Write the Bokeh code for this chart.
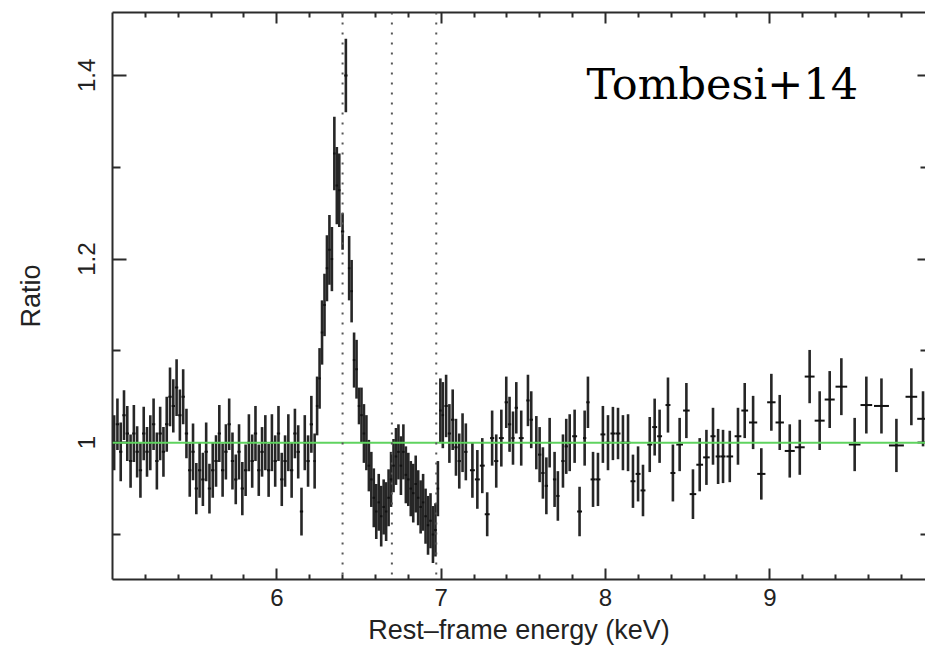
import numpy as np
from bokeh.plotting import figure
from bokeh.models import (ColumnDataSource, FixedTicker, LinearAxis, Range1d,
                          Span, Label)
from bokeh.embed import file_html
from bokeh.resources import INLINE

# ---- data -----------------------------------------------------------------
# continuum below the Fe K line
energy_lo = [5.01, 5.03, 5.05, 5.07, 5.09, 5.11, 5.13, 5.15, 5.17, 5.19,
             5.21, 5.23, 5.25, 5.27, 5.29, 5.31, 5.33, 5.35, 5.37, 5.39,
             5.41, 5.43, 5.45, 5.47, 5.49, 5.51, 5.53, 5.55, 5.57, 5.59,
             5.61, 5.63, 5.65, 5.67, 5.69, 5.71, 5.73, 5.75, 5.77, 5.79,
             5.81, 5.83, 5.85, 5.87, 5.89, 5.91, 5.93, 5.95, 5.97, 5.99,
             6.01, 6.03, 6.05, 6.07, 6.09, 6.11, 6.13, 6.15, 6.17, 6.19,
             6.21]
ratio_lo = [1.00, 1.02, 0.99, 1.03, 1.01, 0.98, 1.01, 0.99, 0.97, 1.01,
            0.99, 1.00, 1.02, 0.98, 1.01, 0.99, 1.02, 1.05, 1.04, 1.06,
            1.03, 1.05, 1.01, 0.97, 0.99, 0.95, 0.97, 0.96, 0.99, 0.95,
            0.97, 0.98, 1.01, 0.97, 0.99, 1.02, 0.98, 0.96, 0.99, 0.95,
            0.97, 1.00, 0.98, 1.01, 0.97, 0.99, 1.00, 0.97, 1.00, 0.98,
            1.01, 0.96, 0.98, 1.00, 0.97, 1.01, 0.99, 0.925, 1.00, 0.98,
            1.02]
err_lo = [0.030, 0.028, 0.032, 0.027, 0.030, 0.029, 0.031, 0.028, 0.030, 0.029,
          0.027, 0.030, 0.028, 0.031, 0.029, 0.027, 0.030, 0.032, 0.029, 0.031,
          0.028, 0.030, 0.027, 0.029, 0.031, 0.028, 0.030, 0.029, 0.032, 0.027,
          0.030, 0.028, 0.031, 0.029, 0.030, 0.028, 0.031, 0.027, 0.030, 0.029,
          0.028, 0.031, 0.029, 0.030, 0.028, 0.027, 0.030, 0.029, 0.031, 0.028,
          0.030, 0.029, 0.028, 0.031, 0.030, 0.027, 0.029, 0.026, 0.030, 0.028,
          0.031]

# Fe K line region
energy_fe = [6.23, 6.245, 6.26, 6.275, 6.29, 6.305, 6.32, 6.335, 6.35, 6.365,
             6.38, 6.40, 6.42, 6.44, 6.455, 6.47, 6.485, 6.50, 6.515, 6.53,
             6.545, 6.56, 6.575, 6.59, 6.605, 6.62, 6.635, 6.65, 6.665, 6.68,
             6.695, 6.71, 6.725, 6.74, 6.755, 6.77, 6.785, 6.80, 6.815, 6.83,
             6.845, 6.86, 6.875, 6.89, 6.905, 6.92, 6.935, 6.95, 6.965, 6.98,
             6.995, 7.01, 7.03, 7.05, 7.07, 7.09, 7.11, 7.13, 7.15]
ratio_fe = [0.98, 1.04, 1.07, 1.12, 1.15, 1.19, 1.21, 1.20, 1.315, 1.28,
            1.275, 1.23, 1.40, 1.19, 1.165, 1.09, 1.08, 1.04, 1.03, 1.01,
            1.00, 0.975, 0.96, 0.94, 0.925, 0.935, 0.92, 0.93, 0.925, 0.94,
            0.96, 0.975, 0.985, 0.99, 0.975, 0.99, 0.965, 0.96, 0.95, 0.945,
            0.955, 0.94, 0.93, 0.935, 0.92, 0.91, 0.915, 0.90, 0.905, 0.95,
            1.035, 1.03, 1.04, 1.01, 1.025, 0.995, 0.98, 1.00, 0.99]
err_fe = [0.030, 0.032, 0.033, 0.035, 0.034, 0.036, 0.038, 0.035, 0.040, 0.042,
          0.040, 0.020, 0.040, 0.035, 0.034, 0.030, 0.032, 0.020, 0.030, 0.032,
          0.030, 0.028, 0.030, 0.032, 0.030, 0.031, 0.033, 0.030, 0.032, 0.031,
          0.030, 0.029, 0.031, 0.030, 0.032, 0.030, 0.031, 0.029, 0.030, 0.032,
          0.031, 0.030, 0.029, 0.031, 0.030, 0.032, 0.030, 0.031, 0.029, 0.030,
          0.035, 0.036, 0.034, 0.032, 0.033, 0.031, 0.030, 0.032, 0.031]

# continuum above the Fe K line
energy_hi = [7.19, 7.22, 7.25, 7.28, 7.31, 7.335, 7.366, 7.396, 7.416, 7.437,
             7.457, 7.487, 7.528, 7.548, 7.579, 7.599, 7.619, 7.64, 7.66, 7.69,
             7.71, 7.741, 7.761, 7.782, 7.812, 7.842, 7.873, 7.893, 7.924, 7.954,
             7.984, 8.015, 8.045, 8.076, 8.106, 8.137, 8.167, 8.198, 8.228, 8.269,
             8.299, 8.329, 8.38, 8.41, 8.451, 8.492, 8.532, 8.573, 8.614, 8.654,
             8.685, 8.715, 8.756, 8.806, 8.847, 8.898, 8.948, 9.009, 9.06, 9.121,
             9.182, 9.242, 9.303, 9.364, 9.435, 9.516, 9.587, 9.679, 9.77, 9.861,
             9.932]
ratio_hi = [0.97, 0.96, 0.975, 0.922, 1.005, 0.98, 1.005, 1.044, 1.02, 1.005,
            1.038, 1.005, 1.046, 1.025, 1.0, 0.987, 0.967, 0.953, 1.0, 0.96,
            0.942, 0.98, 0.996, 1.0, 1.007, 0.925, 1.005, 1.044, 0.96, 0.96,
            1.009, 1.0, 1.01, 1.01, 1.0, 1.0, 0.958, 0.966, 0.948, 0.998,
            1.017, 1.007, 1.041, 0.967, 0.998, 1.035, 0.944, 0.976, 0.984, 1.007,
            0.985, 0.985, 0.985, 1.007, 1.035, 1.022, 0.966, 1.044, 1.022, 0.991,
            0.995, 1.072, 1.024, 1.047, 1.061, 0.998, 1.041, 1.04, 0.997, 1.05,
            1.026]
err_hi = [0.030, 0.032, 0.030, 0.024, 0.030, 0.029, 0.031, 0.028, 0.030, 0.029,
          0.028, 0.030, 0.028, 0.031, 0.029, 0.030, 0.028, 0.031, 0.027, 0.030,
          0.027, 0.029, 0.030, 0.031, 0.029, 0.027, 0.030, 0.028, 0.030, 0.029,
          0.031, 0.030, 0.029, 0.028, 0.030, 0.031, 0.029, 0.030, 0.028, 0.030,
          0.031, 0.029, 0.030, 0.031, 0.029, 0.030, 0.027, 0.029, 0.030, 0.031,
          0.030, 0.029, 0.028, 0.031, 0.030, 0.029, 0.028, 0.031, 0.030, 0.029,
          0.030, 0.029, 0.032, 0.031, 0.031, 0.029, 0.031, 0.030, 0.029, 0.031,
          0.030]

line_energies = [6.4, 6.7, 6.97]     # Fe I Ka, Fe XXV, Fe XXVI
model_ratio = 1.0

x_major = [6, 7, 8, 9]
x_minor = [5.2, 5.4, 5.6, 5.8, 6.2, 6.4, 6.6, 6.8, 7.2, 7.4, 7.6, 7.8,
           8.2, 8.4, 8.6, 8.8, 9.2, 9.4, 9.6, 9.8]
y_major = [1.0, 1.2, 1.4]
y_minor = [0.9, 1.1, 1.3]
y_labels = {1: "1", 1.2: "1.2", 1.4: "1.4"}

annotation_text = "Tombesi+14"
x_title = "Rest–frame energy (keV)"
y_title = "Ratio"

# ---- build -----------------------------------------------------------------
E = np.array(energy_lo + energy_fe + energy_hi)
R = np.array(ratio_lo + ratio_fe + ratio_hi)
S = np.array(err_lo + err_fe + err_hi)
order = np.argsort(E)
E, R, S = E[order], R[order], S[order]
gaps = np.diff(E)
left_gap = np.concatenate([[gaps[0]], gaps])
right_gap = np.concatenate([gaps, [gaps[-1]]])
half_w = 0.5 * np.minimum(left_gap, right_gap)

src = ColumnDataSource(dict(x=E, y=R, y0=R - S, y1=R + S,
                            x0=E - half_w, x1=E + half_w))

FONT = "Liberation Sans"
AXC = "#2b2b2b"

p = figure(width=925, height=647, output_backend="svg", toolbar_location=None,
           x_range=Range1d(5.0, 9.947), y_range=Range1d(0.851, 1.4685),
           x_axis_location=None, y_axis_location=None,
           min_border_left=112, min_border_right=0, min_border_top=12,
           min_border_bottom=67)
p.outline_line_color = None
p.grid.visible = False
p.background_fill_color = "white"
p.border_fill_color = "white"

def style_axis(ax, major_in, minor_in, labels=True):
    ax.axis_line_color = AXC
    ax.axis_line_width = 2
    ax.major_tick_line_color = AXC
    ax.minor_tick_line_color = AXC
    ax.major_tick_line_width = 2
    ax.minor_tick_line_width = 2
    ax.major_tick_in = major_in
    ax.major_tick_out = 0
    ax.minor_tick_in = minor_in
    ax.minor_tick_out = 0
    if not labels:
        ax.major_label_text_color = None
        ax.major_label_text_font_size = "1px"
        ax.major_label_standoff = 0

xb = LinearAxis(ticker=FixedTicker(ticks=x_major, minor_ticks=x_minor))
style_axis(xb, 11, 5)
xb.major_label_text_font = FONT
xb.major_label_text_font_size = "24px"
xb.major_label_text_color = "#222222"
xb.major_label_standoff = 9
xb.axis_label = x_title
xb.axis_label_text_font = FONT
xb.axis_label_text_font_size = "27px"
xb.axis_label_text_font_style = "normal"
xb.axis_label_text_color = "#222222"
xb.axis_label_standoff = 6
p.add_layout(xb, "below")

xt = LinearAxis(ticker=FixedTicker(ticks=x_major, minor_ticks=x_minor))
style_axis(xt, 11, 5, labels=False)
p.add_layout(xt, "above")

yl = LinearAxis(ticker=FixedTicker(ticks=y_major, minor_ticks=y_minor))
style_axis(yl, 14, 8)
yl.major_label_overrides = y_labels
yl.major_label_orientation = "parallel"
yl.major_label_text_font = FONT
yl.major_label_text_font_size = "24px"
yl.major_label_text_color = "#222222"
yl.major_label_standoff = 17
yl.axis_label = y_title
yl.axis_label_text_font = FONT
yl.axis_label_text_font_size = "27px"
yl.axis_label_text_font_style = "normal"
yl.axis_label_text_color = "#222222"
yl.axis_label_standoff = 30
p.add_layout(yl, "left")

yr = LinearAxis(ticker=FixedTicker(ticks=y_major, minor_ticks=y_minor))
style_axis(yr, 8, 5, labels=False)
yr.axis_line_color = None
p.add_layout(yr, "right")

# data: bins (horizontal) and 1-sigma errors (vertical)
p.segment(x0="x", y0="y0", x1="x", y1="y1", source=src,
          line_color="#262626", line_width=2.6)
p.segment(x0="x0", y0="y", x1="x1", y1="y", source=src,
          line_color="#111111", line_width=2)

# model (ratio = 1)
p.add_layout(Span(location=model_ratio, dimension="width",
                  line_color="#5fd35f", line_width=2))

# expected Fe line energies
for e in line_energies:
    p.add_layout(Span(location=e, dimension="height", line_color="#555555",
                      line_width=2, line_dash="2 8"))

p.add_layout(Label(x=7.884, y=1.391, text=annotation_text,
                   text_font="DejaVu Serif", text_font_size="43px",
                   text_color="black", text_baseline="alphabetic"))

open("out.html", "w").write(file_html(p, INLINE))
